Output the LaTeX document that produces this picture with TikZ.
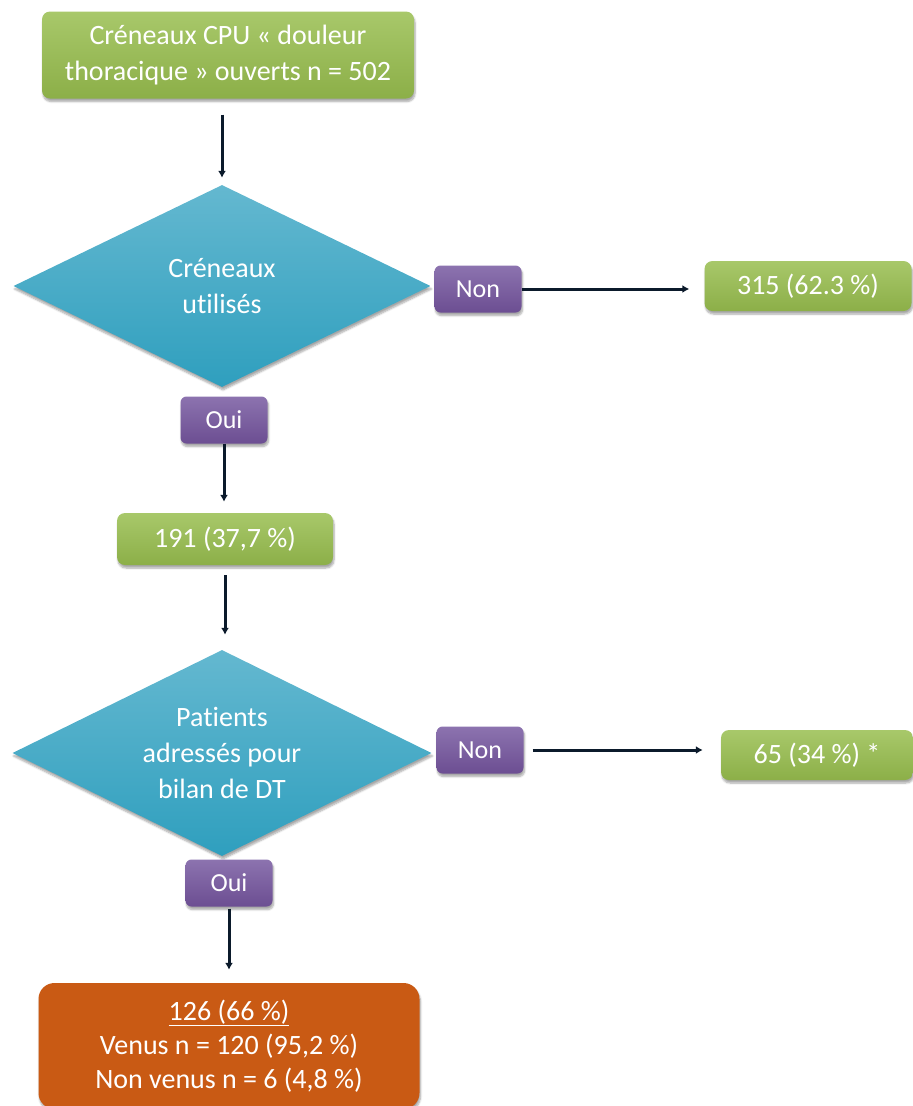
\documentclass[tikz,border=0pt]{standalone}
\usepackage{fontspec}
\setmainfont{Carlito}[Ligatures=NoCommon]
\usetikzlibrary{shapes.geometric,shadows,shadows.blur,arrows.meta}
\definecolor{greenT}{HTML}{A8C86A}
\definecolor{greenB}{HTML}{8CAF48}
\definecolor{blueT}{HTML}{64B8D0}
\definecolor{blueB}{HTML}{2F9FBE}
\definecolor{purT}{HTML}{8C73AF}
\definecolor{purB}{HTML}{6C4E92}
\definecolor{orangeF}{HTML}{C95A14}
\definecolor{arrowc}{HTML}{0B1A2B}
\begin{document}
\begin{tikzpicture}[x=1pt,y=-1pt,
  shd/.style={blur shadow={shadow xshift=1pt,shadow yshift=-3pt,shadow opacity=35,shadow blur steps=6}},
  txt/.style={text=white,font=\fontsize{28}{36}\selectfont,align=center,inner sep=0pt},
  greenbox/.style={txt,shd,rounded corners=8pt,top color=greenT,bottom color=greenB},
  purbox/.style={txt,shd,rounded corners=6pt,top color=purT,bottom color=purB,minimum width=87pt,minimum height=47pt,font=\fontsize{26}{30}\selectfont},
  decision/.style={txt,shd,diamond,top color=blueT,bottom color=blueB,aspect=2},
  arr/.style={draw=arrowc,line width=3pt,-{Latex[length=7pt,width=8pt]}}
]
\useasboundingbox (0,0) rectangle (913,1106);
% nodes
\node[greenbox,minimum width=372pt,minimum height=87pt] (top) at (228,55)
  {Créneaux CPU « douleur\\thoracique » ouverts n = 502};
\node[decision,minimum width=417pt,minimum height=202pt] (d1) at (222,286)
  {Créneaux\\utilisés};
\node[purbox] (non1) at (478,289) {Non};
\node[greenbox,minimum width=207pt,minimum height=50pt] (r1) at (808,286) {315 (62.3 \%)};
\node[purbox] (oui1) at (224,420) {Oui};
\node[greenbox,minimum width=216pt,minimum height=52pt] (n191) at (225,539) {191 (37,7 \%)};
\node[decision,minimum width=419pt,minimum height=206pt] (d2) at (222,753)
  {Patients\\adressés pour\\bilan de DT};
\node[purbox] (non2) at (480,750) {Non};
\node[greenbox,minimum width=192pt,minimum height=50pt] (r2) at (817,755) {65 (34 \%) *};
\node[purbox] (oui2) at (229,883) {Oui};
\node[txt,shd,rounded corners=16pt,fill=orangeF,minimum width=381pt,minimum height=126pt,font=\fontsize{28}{34}\selectfont] (fin) at (229,1046)
  {\underline{126 (66 \%)}\\Venus n = 120 (95,2 \%)\\Non venus n = 6 (4,8 \%)};
% connectors
\draw[arr,shorten <=16pt,shorten >=7pt] (d1.north |- top.south) -- (d1.north);
\draw[arr,shorten >=15pt] (non1.east) -- (non1.east -| r1.west);
\draw[arr,shorten >=11pt] (oui1.south) -- (oui1.south |- n191.north);
\draw[arr,shorten <=10pt,shorten >=15pt] (n191.south) -- (n191.south |- d2.north);
\draw[arr,shorten <=9pt,shorten >=18pt] (non2.east) -- (non2.east -| r2.west);
\draw[arr,shorten <=2pt,shorten >=13pt] (oui2.south) -- (oui2.south |- fin.north);
\end{tikzpicture}
\end{document}
